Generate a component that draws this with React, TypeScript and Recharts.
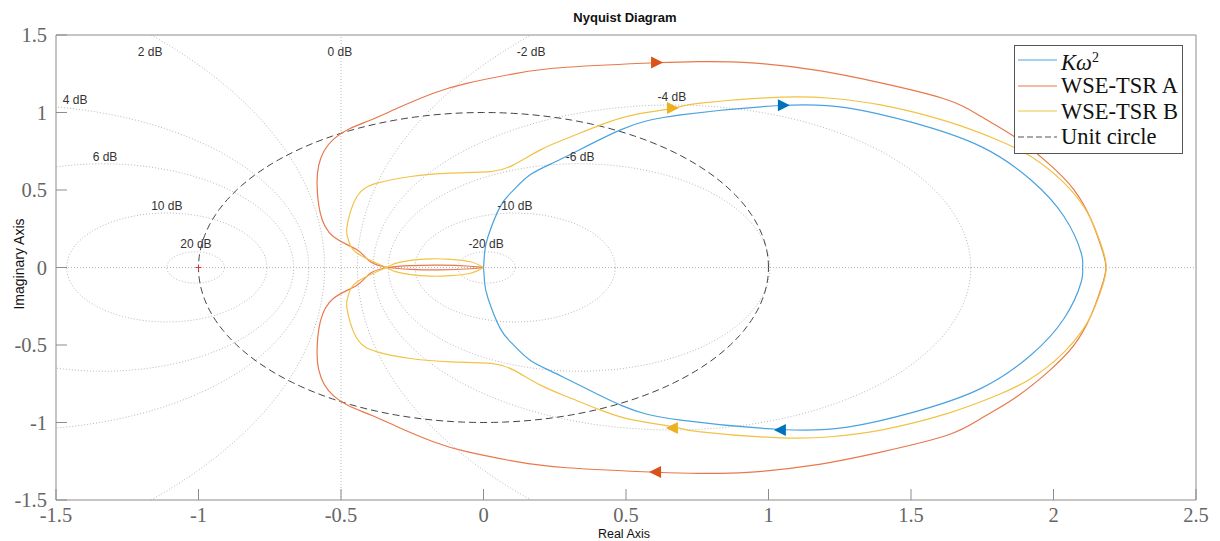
import React from 'react';
import { ComposedChart, Line, Scatter, XAxis, YAxis, ReferenceLine, Legend, Customized } from 'recharts';

// tick values
const xTicks = [-1.5, -1, -0.5, 0, 0.5, 1, 1.5, 2, 2.5];
const yTicks = [-1.5, -1, -0.5, 0, 0.5, 1, 1.5];

// constant closed-loop magnitude contours (dB)
const dbLevels = [20, 10, 6, 4, 2, -2, -4, -6, -10, -20];
const dbLabels = [
  { x: -1.17, y: 1.39, text: '2 dB' },
  { x: -0.504, y: 1.39, text: '0 dB' },
  { x: 0.167, y: 1.39, text: '-2 dB' },
  { x: -1.433, y: 1.081, text: '4 dB' },
  { x: -1.328, y: 0.713, text: '6 dB' },
  { x: -1.111, y: 0.397, text: '10 dB' },
  { x: -1.009, y: 0.152, text: '20 dB' },
  { x: 0.009, y: 0.152, text: '-20 dB' },
  { x: 0.11, y: 0.397, text: '-10 dB' },
  { x: 0.339, y: 0.713, text: '-6 dB' },
  { x: 0.661, y: 1.1, text: '-4 dB' },
];

// upper halves of the Nyquist curves, the lower half is the conjugate
const kOmegaUpper = [
  [0, 0], [0.004, 0.1], [0.016, 0.2], [0.058, 0.391], [0.1, 0.49], [0.165, 0.6],
  [0.279, 0.706], [0.481, 0.888], [0.692, 0.985], [1.043, 1.045], [1.277, 1.03],
  [1.51, 0.933], [1.746, 0.78], [1.921, 0.565], [2.037, 0.329], [2.097, 0.095], [2.102, 0],
];
const tsrAUpper = [
  [0, 0], [-0.046, -0.008], [-0.151, -0.015], [-0.256, -0.012], [-0.334, 0],
  [-0.397, 0.037], [-0.444, 0.114], [-0.527, 0.2], [-0.573, 0.353], [-0.584, 0.546],
  [-0.578, 0.66], [-0.56, 0.75], [-0.525, 0.83], [-0.47, 0.895], [-0.391, 0.955],
  [-0.293, 1.035], [-0.176, 1.124], [-0.059, 1.188], [0.116, 1.253], [0.292, 1.292],
  [0.608, 1.321], [0.762, 1.328], [0.926, 1.322], [1.159, 1.275], [1.394, 1.191],
  [1.629, 1.081], [1.746, 0.974], [1.862, 0.845], [1.98, 0.675], [2.072, 0.501],
  [2.132, 0.308], [2.167, 0.135], [2.184, 0],
];
const tsrBUpper = [
  [0, 0], [-0.046, -0.037], [-0.116, -0.053], [-0.186, -0.056], [-0.256, -0.046],
  [-0.309, -0.027], [-0.341, 0], [-0.444, 0.093], [-0.474, 0.179], [-0.479, 0.264],
  [-0.444, 0.458], [-0.373, 0.544], [-0.256, 0.587], [-0.116, 0.609], [0.025, 0.619],
  [0.106, 0.662], [0.2, 0.759], [0.294, 0.834], [0.411, 0.92], [0.528, 0.985],
  [0.668, 1.028], [0.762, 1.06], [1.043, 1.099], [1.219, 1.092], [1.394, 1.049],
  [1.629, 0.941], [1.804, 0.823], [1.921, 0.716], [2.038, 0.544], [2.12, 0.351],
  [2.161, 0.179], [2.185, 0],
];

// direction arrows on each curve
const arrows = [
  { x: 1.054, y: 1.046, dir: 1, color: '#0072BD' },
  { x: 1.04, y: -1.048, dir: -1, color: '#0072BD' },
  { x: 0.609, y: 1.323, dir: 1, color: '#D95319' },
  { x: 0.602, y: -1.319, dir: -1, color: '#D95319' },
  { x: 0.665, y: 1.029, dir: 1, color: '#EDB120' },
  { x: 0.661, y: -1.035, dir: -1, color: '#EDB120' },
];
const criticalPoint = [{ x: -1, y: 0 }];

const loop = (upper: number[][]) =>
  [...upper, ...upper.slice(0, -1).reverse().map(([x, y]) => [x, -y])].map(([x, y]) => ({ x, y }));

const circle = (cx: number, r: number) => {
  const pts = [];
  for (let a = 0; a <= 360; a += 2) {
    const t = (a * Math.PI) / 180;
    pts.push({ x: cx + r * Math.cos(t), y: r * Math.sin(t) });
  }
  return pts;
};

const mCircles = dbLevels.map((db) => {
  const m2 = Math.pow(10, db / 10);
  const m = Math.sqrt(m2);
  return circle(-m2 / (m2 - 1), Math.abs(m / (m2 - 1)));
});
const unitCircle = circle(0, 1);

const series = [
  { name: 'Kω2', data: loop(kOmegaUpper), color: '#4aa3df' },
  { name: 'WSE-TSR A', data: loop(tsrAUpper), color: '#e8784c' },
  { name: 'WSE-TSR B', data: loop(tsrBUpper), color: '#f2c244' },
];

const GRID = '#b8b8b8';
const AXIS = '#8c8c8c';
const tickFont = { fontFamily: 'Liberation Serif', fontSize: 20.5, fill: '#666' };

const Arrow = (p: any) => {
  const { cx, cy, payload } = p;
  const d = payload.dir;
  return (
    <polygon
      points={`${cx + d * 6},${cy} ${cx - d * 6},${cy - 6} ${cx - d * 6},${cy + 6}`}
      fill={payload.color}
    />
  );
};

const Plus = (p: any) => (
  <g stroke="#e03030" strokeWidth={1}>
    <line x1={p.cx - 3} y1={p.cy} x2={p.cx + 3} y2={p.cy} />
    <line x1={p.cx} y1={p.cy - 3} x2={p.cx} y2={p.cy + 3} />
  </g>
);

const DbText = (p: any) => (
  <text x={p.cx} y={p.cy} textAnchor="middle" dominantBaseline="central"
    fontFamily="Liberation Sans" fontSize={12} fill="#333">
    {p.payload.text}
  </text>
);

const legendRows = [
  { key: 'k', color: '#4aa3df', dash: undefined, label: <span><i>K</i><i>ω</i><sup style={{ fontSize: 14 }}>2</sup></span> },
  { key: 'a', color: '#e8784c', dash: undefined, label: 'WSE-TSR A' },
  { key: 'b', color: '#f2c244', dash: undefined, label: 'WSE-TSR B' },
  { key: 'u', color: '#555', dash: '6 3', label: 'Unit circle' },
];

const LegendBox = () => (
  <div style={{ border: '1px solid #555', background: '#fff', padding: '1px 4px 3px 3px',
    fontFamily: 'Liberation Serif', fontSize: 22.5, color: '#111' }}>
    {legendRows.map((r) => (
      <div key={r.key} style={{ display: 'flex', alignItems: 'center', height: 25.7 }}>
        <svg width={40} height={10} style={{ marginRight: 3 }}>
          <line x1={0} y1={5} x2={39} y2={5} stroke={r.color} strokeWidth={1.2} strokeDasharray={r.dash} />
        </svg>
        <span style={{ whiteSpace: 'nowrap', lineHeight: '25px' }}>{r.label}</span>
      </div>
    ))}
  </div>
);

const Texts = () => (
  <g fontFamily="Liberation Sans" fill="#111">
    <text x={617} y={14} textAnchor="middle" fontSize={13} fontWeight="bold">Nyquist Diagram</text>
    <text x={616} y={529.5} textAnchor="middle" fontSize={12.5}>Real Axis</text>
    <text x={16} y={256} textAnchor="middle" fontSize={14} transform="rotate(-90 16 256)">Imaginary Axis</text>
  </g>
);

export default function App() {
  return (
    <ComposedChart width={1212} height={533} margin={{ top: 26, right: 23, left: 0, bottom: 0 }}>
      <XAxis type="number" dataKey="x" domain={[-1.5, 2.5]} ticks={xTicks} allowDataOverflow
        stroke={AXIS} tickSize={-11} tickMargin={18} height={41} tick={tickFont}
        tickFormatter={(v) => String(v)} />
      <XAxis xAxisId="top" orientation="top" type="number" dataKey="x" domain={[-1.5, 2.5]}
        ticks={xTicks} allowDataOverflow stroke={AXIS} tickSize={-11} height={1} tick={false} />
      <YAxis type="number" dataKey="y" domain={[-1.5, 1.5]} ticks={yTicks} allowDataOverflow
        stroke={AXIS} tickSize={-11} tickMargin={20} width={48} tick={tickFont} />
      <YAxis yAxisId="right" orientation="right" type="number" dataKey="y" domain={[-1.5, 1.5]}
        ticks={yTicks} allowDataOverflow stroke={AXIS} tickSize={-11} width={1} tick={false} />

      <ReferenceLine y={0} stroke={GRID} strokeDasharray="1 2" />
      <ReferenceLine x={-0.5} stroke={GRID} strokeDasharray="1 2" />
      {mCircles.map((pts, i) => (
        <Line key={`m${i}`} data={pts} dataKey="y" type="linear" stroke={GRID} strokeWidth={1}
          strokeDasharray="1 2" dot={false} activeDot={false} isAnimationActive={false} legendType="none" />
      ))}
      <Line data={unitCircle} dataKey="y" type="linear" stroke="#444" strokeWidth={1}
        strokeDasharray="7 4" dot={false} activeDot={false} isAnimationActive={false} />
      {series.map((s) => (
        <Line key={s.name} name={s.name} data={s.data} dataKey="y" type="natural" stroke={s.color}
          strokeWidth={1.2} dot={false} activeDot={false} isAnimationActive={false} />
      ))}
      <Scatter data={arrows} dataKey="y" shape={Arrow} isAnimationActive={false} />
      <Scatter data={criticalPoint} dataKey="y" shape={Plus} isAnimationActive={false} />
      <Scatter data={dbLabels} dataKey="y" shape={DbText} isAnimationActive={false} />
      <Customized component={Texts} />
      <Legend content={LegendBox} layout="horizontal" verticalAlign="middle" align="center"
        wrapperStyle={{ left: 1006, top: 37, width: 'auto', bottom: 'auto' }} />
    </ComposedChart>
  );
}
